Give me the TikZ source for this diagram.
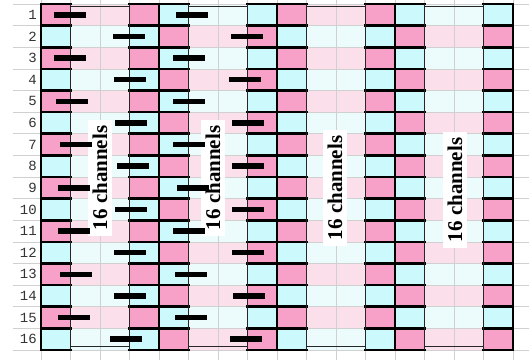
\documentclass[tikz,border=0pt]{standalone}
\usepackage{fontspec}
\newfontfamily\chanfont{Liberation Serif}
\newfontfamily\rowfont{Liberation Mono}
\definecolor{rose}{RGB}{247,160,200}
\definecolor{aqua}{RGB}{204,250,252}
\definecolor{palerose}{RGB}{251,224,236}
\definecolor{paleaqua}{RGB}{236,252,253}
\definecolor{gridgray}{RGB}{208,208,208}

\begin{document}
\begin{tikzpicture}[
  x=1pt, y=-1pt,
  grid/.style={draw=gridgray, line width=0.7pt},
  edge/.style={line width=2.7pt, line cap=rect},
  frame/.style={draw=black!85, line width=0.9pt},
  chan/.style={fill=white, rotate=90, inner xsep=6pt, inner ysep=4.5pt,
               font=\chanfont\bfseries\fontsize{21}{21}\selectfont},
  rowno/.style={anchor=east, inner sep=0pt, text=black!80,
                font=\rowfont\fontsize{14}{14}\selectfont},
  bar/.style={line width=5.5pt},
]
\useasboundingbox (0,0) rectangle (529,360);

% The sheet's grid, behind everything.
\foreach \c in {0,...,16} \draw[grid] ({41+29.5*\c},0) -- ({41+29.5*\c},360);
\foreach \r in {0,...,16} \draw[grid] (13,{4+21.625*\r}) -- (529,{4+21.625*\r});

% Cells: groups of four columns (strong, pale, pale, strong); groups 0 and 2 start pink.
\foreach \c in {0,...,15}{
  \pgfmathtruncatemacro\grp{mod(floor(\c/4),2)}
  \pgfmathtruncatemacro\pos{mod(\c,4)}
  \foreach \r in {1,...,16}{
    \pgfmathtruncatemacro\pk{mod(\r+\grp,2)}
    \ifcase\pos
      \ifnum\pk=1 \def\hue{rose}\else\def\hue{aqua}\fi
    \or
      \ifnum\pk=1 \def\hue{palerose}\else\def\hue{paleaqua}\fi
    \or
      \ifnum\pk=1 \def\hue{palerose}\else\def\hue{paleaqua}\fi
    \or
      \ifnum\pk=1 \def\hue{rose}\else\def\hue{aqua}\fi
    \fi
    \filldraw[fill=\hue, grid] ({41+29.5*\c},{4+21.625*(\r-1)}) rectangle ({41+29.5*(\c+1)},{4+21.625*\r});
  }
}

% Heavy rules round the strong columns.
\foreach \c in {0,3,4,7,8,11,12,15}
  \foreach \r in {0,...,16}
    \draw[edge] ({41+29.5*\c},{4+21.625*\r}) -- ({41+29.5*(\c+1)},{4+21.625*\r});
\foreach \c in {0,4,8,12,16}
  \draw[edge] ({41+29.5*\c},4) -- ({41+29.5*\c},350);

% The four channel blocks.
\foreach \c in {1,5,9,13}{
  \draw[frame] ({41+29.5*\c},4) -- ({41+29.5*\c},350);
  \draw[frame] ({41+29.5*(\c+2)},4) -- ({41+29.5*(\c+2)},350);
  \draw[frame] ({41+29.5*\c},6) rectangle ({41+29.5*(\c+2)},346);
}
\node[chan] (chA) at (100,178) {16 channels};
\node[chan] (chB) at (213,178) {16 channels};
\node[chan] (chC) at (335,188) {16 channels};
\node[chan] (chD) at (455,190) {16 channels};

% Bars: row / start in the first block / start in the second block.
\foreach \r/\xa/\xb in {1/54/176, 2/113/231, 3/54/173, 4/114/229, 5/56/173, 6/115/232,
                        7/60/173, 8/117/232, 9/58/177, 10/115/232, 11/58/173, 12/114/232,
                        13/60/175, 14/114/233, 15/58/175, 16/110/230}{
  \draw[bar] (\xa,{4+21.625*(\r-0.5)}) -- ({\xa+32},{4+21.625*(\r-0.5)});
  \draw[bar] (\xb,{4+21.625*(\r-0.5)}) -- ({\xb+32},{4+21.625*(\r-0.5)});
}

% Row numbers.
\foreach \r in {1,...,16}
  \node[rowno] (row\r) at (37,{4+21.625*(\r-0.5)}) {\r};

\end{tikzpicture}
\end{document}
